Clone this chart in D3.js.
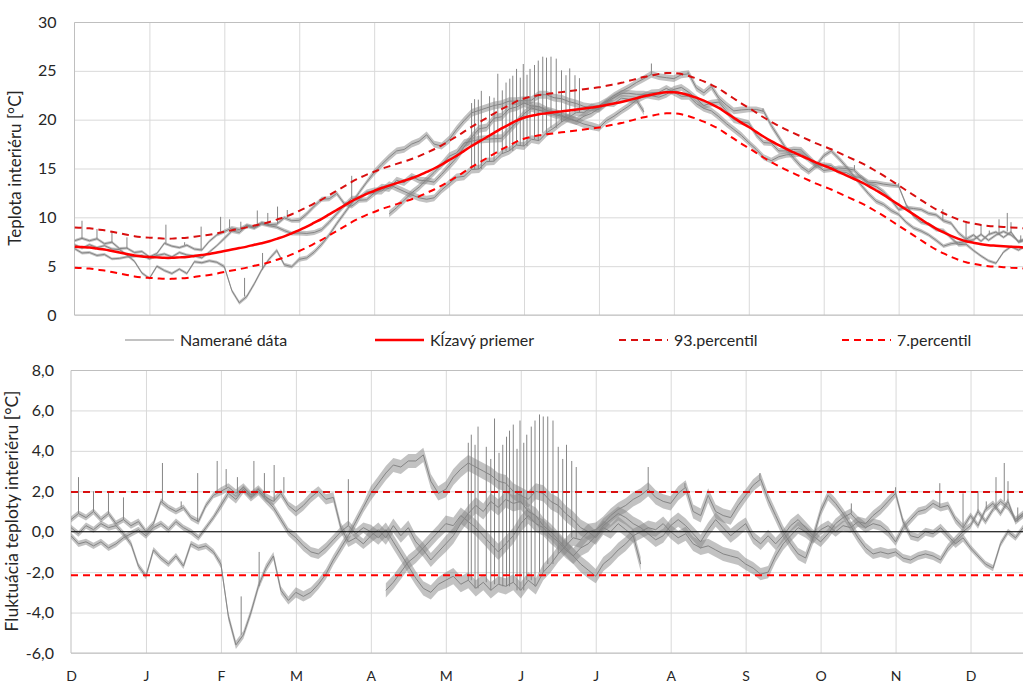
<!DOCTYPE html>
<html>
<head>
<meta charset="utf-8">
<script src="https://cdn.jsdelivr.net/npm/d3@7"></script>
<style>
  body { margin: 0; background: #fff; }
  svg text { font-family: Lato, "Open Sans", sans-serif; fill: #262626; }
</style>
</head>
<body>
<svg id="chart" width="1023" height="686"></svg>
<script>
// month labels along the x axis (D .. D)
var months = ["D","J","F","M","A","M","J","J","A","S","O","N","D"];
var step = 0.1; // one value every 0.1 month

// moving average [°C], m = 0.0 .. 12.7
var avgTemp = [
  7.0, 6.95, 6.9, 6.8, 6.7, 6.55, 6.4, 6.25, 6.1, 6.0,
  5.95, 5.9, 5.85, 5.85, 5.9, 5.95, 6.05, 6.15, 6.25, 6.4,
  6.55, 6.7, 6.85, 7.0, 7.2, 7.35, 7.55, 7.8, 8.05, 8.35,
  8.7, 9.05, 9.45, 9.85, 10.3, 10.75, 11.2, 11.65, 12.05, 12.4,
  12.7, 13.0, 13.25, 13.5, 13.75, 14.0, 14.3, 14.65, 15.0, 15.4,
  15.85, 16.3, 16.8, 17.3, 17.75, 18.2, 18.65, 19.1, 19.5, 19.9,
  20.2, 20.4, 20.55, 20.65, 20.75, 20.85, 20.95, 21.05, 21.15, 21.25,
  21.35, 21.5, 21.65, 21.8, 22.0, 22.2, 22.4, 22.55, 22.7, 22.8,
  22.8, 22.7, 22.5, 22.25, 21.95, 21.6, 21.2, 20.7, 20.2, 19.7,
  19.25, 18.75, 18.25, 17.8, 17.4, 17.0, 16.65, 16.3, 15.95, 15.6,
  15.3, 15.0, 14.65, 14.3, 13.95, 13.6, 13.2, 12.75, 12.3, 11.8,
  11.3, 10.8, 10.3, 9.8, 9.3, 8.85, 8.45, 8.1, 7.8, 7.55,
  7.4, 7.25, 7.15, 7.1, 7.05, 7.0, 6.95, 6.9
];

// percentile offsets from the moving average [°C]
var p93Offset = 1.97;
var p7Offset = -2.15;

// half of the day-to-night swing of the measured data, per month [°C]
var dailySwing = [0.15, 0.15, 0.2, 0.25, 0.35, 0.4, 0.4, 0.35, 0.35, 0.3, 0.25, 0.2, 0.15];

// fluctuation of the measured series from the moving average [°C]
var flucA = [
  0.6, 0.9, 0.7, 1.0, 0.6, 0.9, 0.4, 0.6, 0.3, 0.5,
  0.0, 0.4, 1.5, 1.2, 1.0, 1.2, 0.7, 0.5, 1.3, 1.8,
  2.0, 2.2, 1.9, 2.2, 1.8, 2.1, 1.7, 1.5, 1.9, 1.3,
  1.0, 1.3, 1.7, 2.0, 1.6, 1.7, 0.2, -0.5, -0.3, -0.6,
  -0.2, 0.1, -0.3, 0.3, -0.2, 0.2, -0.5, -0.9, -1.4, -1.0,
  -0.6, -0.2, 0.4, 0.9, 1.3, 1.0, 1.5, 1.2, 1.6, 1.4,
  1.5, 1.0, 0.8, 0.3, 0.0, -0.4, -0.8, -1.2, -1.6, -1.9,
  -2.2, -1.6, -1.3, -0.9, -0.6, -0.2, 0.0, 0.2, 0.1, 0.4,
  0.0, -0.3, -0.1, -0.6, -0.8, -0.7, -0.9, -1.1, -1.2, -1.3,
  -1.6, -1.8, -2.1, -2.0, -1.2, -0.6, -0.2, 0.2, 0.0, -0.3,
  0.1, 0.3, 0.0, 0.3, 0.2, 0.5, 0.4, 0.8, 1.1, 1.5,
  1.9, 0.5, -0.2, -0.3, 0.0, -0.1, 0.2, -0.2, -0.6, -0.3,
  -0.8, -1.2, -1.6, -1.8, -0.6, 0.0, -0.3, 0.2
];
var flucB = [
  0.2, -0.1, 0.3, 0.1, 0.4, 0.2, 0.3, -0.1, -0.6, -1.7,
  -2.2, -0.9, -1.3, -1.6, -1.2, -1.7, -0.6, -0.8, -0.7, -1.0,
  -1.6, -4.2, -5.6, -5.1, -4.0, -2.7, -1.8, -1.2, -2.9, -3.4,
  -3.0, -3.2, -3.0, -2.6, -2.1, -1.4, -0.8, -0.2, 0.5, 1.2,
  1.9, 2.4, 2.9, 3.3, 3.2, 3.5, 3.5, 3.8, 2.5, 1.9,
  2.1, 2.7, 3.1, 3.4, 3.2, 3.0, 2.8, 2.5, 2.4, 2.0,
  1.8, 1.6, 2.0, 1.9, 1.5, 1.3, 0.9, 0.6, 0.2, 0.0,
  0.1, 0.4, 0.8, 1.1, 1.3, 1.6, 1.8, 2.1, 1.7, 1.5,
  1.4, 1.9, 2.2, 1.0, 0.8, 1.8, 1.0, 0.8, 0.7, 1.3,
  1.8, 2.3, 2.6, 1.6, 0.8, 0.0, -0.6, -1.1, -1.3, -0.3,
  1.0, 1.8, 1.4, 0.9, 0.3, -0.3, -0.8, -1.1, -1.0, -1.1,
  -1.0, -1.3, -1.4, -1.2, -1.1, -1.2, -1.4, -0.8, -0.4, 0.0,
  0.3, 1.0, 0.5, 1.1, 1.5, 1.2, 0.6, 0.9
];
// series C ends at m = 7.6
var flucC = [
  -0.2, -0.6, -0.5, -0.7, -0.5, -0.8, -0.6, -0.3, -0.1, 0.1,
  -0.2, 0.2, 0.4, 0.1, 0.5, 0.2, 0.0, -0.3, 0.2, 0.7,
  1.3, 1.9, 1.6, 2.1, 1.7, 2.0, 1.6, 1.2, 0.6, 0.0,
  -0.3, -0.7, -1.0, -1.1, -0.8, -0.4, 0.0, 0.3, -0.1, 0.2,
  0.0, -0.3, 0.1, -0.5, -1.1, -1.7, -2.3, -2.8, -3.0, -2.6,
  -2.4, -2.2, -2.6, -2.4, -2.8, -2.5, -2.9, -2.6, -2.7, -2.5,
  -2.9, -2.4, -2.7, -2.0, -1.6, -1.1, -0.7, -0.3, -0.4, 0.0,
  -0.3, 0.2, 0.0, 0.4, 0.1, -0.2, -1.6
];
// series D starts at m = 4.2
var flucDStart = 42;
var flucD = [
  -2.9, -2.5, -2.0, -1.5, -1.2, -0.8, -0.4, 0.0, 0.4, 0.3,
  0.8, 0.5, 0.2, -0.2, -0.6, -1.0, -0.6, -0.2, 0.4, 0.8,
  0.4, 0.2, -0.2, -0.5, -0.9, -1.2, -0.8, -0.6, -0.2, 0.3,
  0.6, 0.9, 0.7, 0.4, 0.2, -0.1, -0.4, -0.2, 0.3, 0.6,
  0.3, -0.1, -0.5, 0.1, 0.6, 0.2, -0.2, 0.1, 0.4, -0.3,
  -0.6, -0.2, -0.6, -0.2, 0.3, 0.6, 0.2, -0.2, -0.5, -0.1,
  0.4, 0.7, 0.9, 0.5, 0.2, 0.4, 0.3, 0.0, -0.5, 0.2,
  0.6, 1.0, 1.1, 1.4, 1.2, 1.3, 0.6, 0.2, 0.8, 0.3,
  1.1, 1.4, 0.9, 1.5, 0.5, 0.8
];

// short peaks: [series, month, peak fluctuation]
var spikes = [
  ["A", 0.1, 2.7], ["A", 0.3, 2.0], ["A", 0.5, 2.0], ["A", 0.7, 1.7],
  ["A", 1.22, 3.4], ["A", 1.47, 1.5], ["A", 1.69, 2.9], ["A", 1.95, 3.5],
  ["A", 2.07, 3.1], ["A", 2.22, 2.7], ["A", 2.44, 3.5], ["A", 2.58, 2.9],
  ["A", 2.71, 3.3], ["A", 2.84, 2.7], ["C", 3.7, 2.6],
  ["B", 2.27, -3.2], ["B", 2.51, -1.0],
  ["C", 5.30, 4.4], ["C", 5.34, 4.8], ["C", 5.39, 4.3], ["C", 5.43, 5.2],
  ["C", 5.54, 4.2], ["C", 5.60, 3.6], ["C", 5.65, 5.6], ["C", 5.71, 3.9],
  ["C", 5.76, 4.3], ["C", 5.81, 4.7], ["C", 5.85, 5.0], ["C", 5.90, 5.3],
  ["C", 5.95, 4.1], ["C", 5.99, 5.5], ["C", 6.04, 4.4], ["C", 6.08, 4.8],
  ["C", 6.14, 5.2], ["C", 6.19, 5.5], ["C", 6.25, 5.8], ["C", 6.30, 5.7],
  ["C", 6.36, 5.7], ["C", 6.43, 5.5], ["C", 6.50, 4.2], ["C", 6.56, 3.6],
  ["C", 6.61, 4.3], ["C", 6.68, 3.5], ["C", 6.74, 3.2],
  ["B", 7.70, 3.2], ["B", 8.19, 2.4], ["B", 9.19, 2.9],
  ["D", 10.41, 1.4], ["A", 11.0, 2.2], ["D", 11.59, 2.4], ["D", 11.9, 1.9],
  ["B", 12.1, 2.0], ["D", 12.21, 1.5], ["B", 12.34, 2.7], ["B", 12.45, 3.4],
  ["D", 12.5, 2.5], ["D", 12.63, 1.2]
];

var series = {
  A: { start: 0, vals: flucA },
  B: { start: 0, vals: flucB },
  C: { start: 0, vals: flucC },
  D: { start: flucDStart, vals: flucD }
};

var svg = d3.select("#chart");

// ---------- scales ----------
var xTop = d3.scaleLinear().domain([0, 12.66]).range([74.5, 1023]);
var yTop = d3.scaleLinear().domain([0, 30]).range([315, 22]);
var xBot = d3.scaleLinear().domain([0, 12.7]).range([71, 1023]);
var yBot = d3.scaleLinear().domain([-6, 8]).range([653, 370]);

var gridColor = "#d9d9d9", axisColor = "#bfbfbf", grey = "#858585";

var defs = svg.append("defs");
defs.append("clipPath").attr("id", "clipTop")
  .append("rect").attr("x", 74.5).attr("y", 20).attr("width", 949).attr("height", 296);
defs.append("clipPath").attr("id", "clipBot")
  .append("rect").attr("x", 71).attr("y", 368).attr("width", 952).attr("height", 286);

function seriesPoints(s) {
  return s.vals.map(function(v, k) {
    var i = s.start + k;
    var m = i * step;
    return { m: m, i: i, f: v, sw: dailySwing[Math.min(12, Math.floor(m))] };
  });
}

function spikeBase(s, m) {
  var i = Math.round(m / step);
  var k = Math.min(Math.max(i - s.start, 0), s.vals.length - 1);
  return { i: s.start + k, f: s.vals[k] };
}

// ---------- top panel ----------
var gTop = svg.append("g");

gTop.append("g")
  .attr("transform", "translate(74.5,0)")
  .call(d3.axisLeft(yTop).tickValues(d3.range(0, 31, 5)).tickSize(-949).tickFormat(""))
  .call(function(g) {
    g.select(".domain").remove();
    g.selectAll("line").attr("stroke", gridColor);
  });
gTop.append("g")
  .attr("transform", "translate(0,315)")
  .call(d3.axisBottom(xTop).tickValues(d3.range(1, 13)).tickSize(-293).tickFormat(""))
  .call(function(g) {
    g.select(".domain").remove();
    g.selectAll("line").attr("stroke", gridColor);
  });
gTop.append("path")
  .attr("d", "M1023,22.5H74.5V315H1023")
  .attr("fill", "none").attr("stroke", axisColor);

gTop.append("g")
  .attr("transform", "translate(74.5,0)")
  .call(d3.axisLeft(yTop).tickValues(d3.range(0, 31, 5)).tickSize(0).tickPadding(18))
  .call(function(g) {
    g.select(".domain").remove();
    g.selectAll("text").style("font-size", "16px").attr("fill", "#262626");
  });

gTop.append("text")
  .attr("transform", "translate(21,168) rotate(-90)")
  .attr("text-anchor", "middle")
  .style("font-size", "17px")
  .text("Teplota interiéru [°C]");

var topPlot = gTop.append("g").attr("clip-path", "url(#clipTop)");

var lineTop = d3.line()
  .x(function(d) { return xTop(d.m); })
  .y(function(d) { return yTop(avgTemp[d.i] + d.f); });
var bandTop = d3.area()
  .x(function(d) { return xTop(d.m); })
  .y0(function(d) { return yTop(avgTemp[d.i] + d.f - d.sw); })
  .y1(function(d) { return yTop(avgTemp[d.i] + d.f + d.sw); });

["A", "B", "C", "D"].forEach(function(key) {
  var pts = seriesPoints(series[key]);
  topPlot.append("path").datum(pts)
    .attr("d", bandTop)
    .attr("fill", grey).attr("fill-opacity", 0.5);
  topPlot.append("path").datum(pts)
    .attr("d", lineTop)
    .attr("fill", "none")
    .attr("stroke", grey)
    .attr("stroke-width", 1);
});

topPlot.selectAll(".spikeTop")
  .data(spikes)
  .enter().append("line")
  .attr("class", "spikeTop")
  .attr("x1", function(d) { return xTop(d[1]); })
  .attr("x2", function(d) { return xTop(d[1]); })
  .attr("y1", function(d) { var b = spikeBase(series[d[0]], d[1]); return yTop(avgTemp[b.i] + b.f); })
  .attr("y2", function(d) { var b = spikeBase(series[d[0]], d[1]); return yTop(avgTemp[b.i] + d[2]); })
  .attr("stroke", grey)
  .attr("stroke-width", 1);

var avgPts = avgTemp.map(function(v, i) { return { m: i * step, v: v }; });
function smoothLine(offset) {
  return d3.line()
    .curve(d3.curveCatmullRom)
    .x(function(d) { return xTop(d.m); })
    .y(function(d) { return yTop(d.v + offset); });
}

topPlot.append("path").datum(avgPts)
  .attr("d", smoothLine(p93Offset))
  .attr("fill", "none").attr("stroke", "#d90f0f").attr("stroke-width", 2)
  .attr("stroke-dasharray", "7,5");
topPlot.append("path").datum(avgPts)
  .attr("d", smoothLine(p7Offset))
  .attr("fill", "none").attr("stroke", "#ff0000").attr("stroke-width", 2)
  .attr("stroke-dasharray", "7,5");
topPlot.append("path").datum(avgPts)
  .attr("d", smoothLine(0))
  .attr("fill", "none").attr("stroke", "#ff0000").attr("stroke-width", 2.5);

// ---------- legend ----------
var legend = svg.append("g").attr("transform", "translate(0,340)");
var legendItems = [
  { label: "Namerané dáta", x: 125, color: grey, width: 1, dash: null },
  { label: "Kĺzavý priemer", x: 375, color: "#ff0000", width: 2.5, dash: null },
  { label: "93.percentil", x: 619, color: "#d90f0f", width: 2, dash: "7,5" },
  { label: "7.percentil", x: 842, color: "#ff0000", width: 2, dash: "7,5" }
];
legendItems.forEach(function(it) {
  legend.append("line")
    .attr("x1", it.x).attr("x2", it.x + 49).attr("y1", 0).attr("y2", 0)
    .attr("stroke", it.color).attr("stroke-width", it.width)
    .attr("stroke-dasharray", it.dash);
  legend.append("text")
    .attr("x", it.x + 55).attr("y", 0).attr("dy", "0.35em")
    .style("font-size", "16px")
    .text(it.label);
});

// ---------- bottom panel ----------
var gBot = svg.append("g");
var fmt = function(v) { return d3.format(".1f")(v).replace(".", ",").replace("−", "-"); };

gBot.append("g")
  .attr("transform", "translate(71,0)")
  .call(d3.axisLeft(yBot).tickValues(d3.range(-6, 9, 2)).tickSize(-952).tickFormat(""))
  .call(function(g) {
    g.select(".domain").remove();
    g.selectAll("line").attr("stroke", gridColor);
  });
gBot.append("g")
  .attr("transform", "translate(0,653)")
  .call(d3.axisBottom(xBot).tickValues(d3.range(1, 13)).tickSize(-283).tickFormat(""))
  .call(function(g) {
    g.select(".domain").remove();
    g.selectAll("line").attr("stroke", gridColor);
  });
gBot.append("path")
  .attr("d", "M1023,370.5H71V653H1023")
  .attr("fill", "none").attr("stroke", axisColor);

gBot.append("g")
  .attr("transform", "translate(71,0)")
  .call(d3.axisLeft(yBot).tickValues(d3.range(-6, 9, 2)).tickSize(0).tickPadding(17).tickFormat(fmt))
  .call(function(g) {
    g.select(".domain").remove();
    g.selectAll("text").style("font-size", "16px").attr("fill", "#262626");
  });

gBot.append("g")
  .attr("transform", "translate(0,653)")
  .call(d3.axisBottom(xBot).tickValues(d3.range(0, 13)).tickSize(0).tickPadding(18)
    .tickFormat(function(i) { return months[i]; }))
  .call(function(g) {
    g.select(".domain").remove();
    g.selectAll("text").style("font-size", "14px").attr("fill", "#262626");
  });

gBot.append("text")
  .attr("transform", "translate(18,511) rotate(-90)")
  .attr("text-anchor", "middle")
  .style("font-size", "17.5px")
  .text("Fluktuácia teploty interiéru [°C]");

var botPlot = gBot.append("g").attr("clip-path", "url(#clipBot)");

var lineBot = d3.line()
  .x(function(d) { return xBot(d.m); })
  .y(function(d) { return yBot(d.f); });
var bandBot = d3.area()
  .x(function(d) { return xBot(d.m); })
  .y0(function(d) { return yBot(d.f - d.sw); })
  .y1(function(d) { return yBot(d.f + d.sw); });

["A", "B", "C", "D"].forEach(function(key) {
  var pts = seriesPoints(series[key]);
  botPlot.append("path").datum(pts)
    .attr("d", bandBot)
    .attr("fill", grey).attr("fill-opacity", 0.5);
  botPlot.append("path").datum(pts)
    .attr("d", lineBot)
    .attr("fill", "none")
    .attr("stroke", grey)
    .attr("stroke-width", 1);
});

botPlot.selectAll(".spikeBot")
  .data(spikes)
  .enter().append("line")
  .attr("class", "spikeBot")
  .attr("x1", function(d) { return xBot(d[1]); })
  .attr("x2", function(d) { return xBot(d[1]); })
  .attr("y1", function(d) { return yBot(spikeBase(series[d[0]], d[1]).f); })
  .attr("y2", function(d) { return yBot(d[2]); })
  .attr("stroke", grey)
  .attr("stroke-width", 1);

botPlot.append("line")
  .attr("x1", 71).attr("x2", 1023).attr("y1", yBot(0)).attr("y2", yBot(0))
  .attr("stroke", "#000").attr("stroke-width", 1);

botPlot.append("line")
  .attr("x1", 71).attr("x2", 1023).attr("y1", yBot(p93Offset)).attr("y2", yBot(p93Offset))
  .attr("stroke", "#d90f0f").attr("stroke-width", 2).attr("stroke-dasharray", "7,5");
botPlot.append("line")
  .attr("x1", 71).attr("x2", 1023).attr("y1", yBot(p7Offset)).attr("y2", yBot(p7Offset))
  .attr("stroke", "#ff0000").attr("stroke-width", 2).attr("stroke-dasharray", "7,5");
</script>
</body>
</html>
